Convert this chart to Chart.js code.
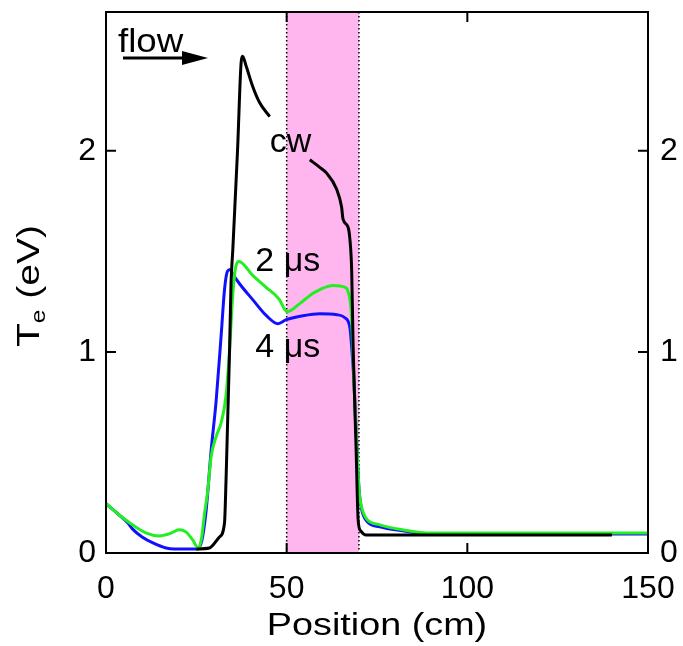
<!DOCTYPE html>
<html>
<head>
<meta charset="utf-8">
<script src="https://cdn.jsdelivr.net/npm/chart.js@4.4.1/dist/chart.umd.min.js"></script>
<style>
  html,body{margin:0;padding:0;background:#fff;}
  #wrap{width:683px;height:646px;}
</style>
</head>
<body>
<div id="wrap"><canvas id="c" width="683" height="646"></canvas></div>
<script>
// ---- data ----
const xTicks = [0, 50, 100, 150];
const yTicks = [0, 1, 2];
const bandStart = 50, bandEnd = 70;

const cwX = [25, 28.6, 31.4, 32.8, 33.2, 33.7, 34.2, 34.6, 35.1, 36.4, 37.4, 37.8, 38.8, 40.6, 42.5, 45.3, 50, 56.4, 59.0, 61.0, 63.8, 65.2, 65.6, 67.0, 67.5, 68.0, 68.4, 69.2, 69.8, 70.5, 72, 80, 100, 120, 140];
const cwY = [0.02, 0.025, 0.08, 0.15, 0.35, 0.68, 1.01, 1.34, 1.51, 2.00, 2.44, 2.47, 2.42, 2.32, 2.24, 2.17, null, 1.955, 1.92, 1.89, 1.81, 1.72, 1.66, 1.62, 1.56, 1.40, 1.02, 0.53, 0.16, 0.11, 0.09, 0.09, 0.09, 0.09, 0.09];

const us2X = [0, 3.6, 7.3, 11, 14.7, 17.5, 20.3, 22.1, 24, 25.6, 26.5, 27.3, 28.1, 29.1, 30.5, 31.9, 33.2, 34.2, 35.1, 36.0, 36.8, 40.6, 44.4, 48.0, 49.5, 50.2, 53.6, 57.2, 59.2, 62.8, 66.3, 67.0, 67.9, 68.6, 69.4, 70.1, 70.7, 72.1, 75.8, 82.2, 88.8, 100, 150];
const us2Y = [0.245, 0.19, 0.14, 0.10, 0.085, 0.095, 0.115, 0.105, 0.065, 0.023, 0.08, 0.20, 0.30, 0.48, 0.58, 0.65, 0.78, 1.01, 1.29, 1.43, 1.45, 1.38, 1.32, 1.26, 1.21, 1.20, 1.24, 1.29, 1.31, 1.33, 1.32, 1.30, 1.19, 0.86, 0.53, 0.30, 0.23, 0.17, 0.14, 0.115, 0.10, 0.10, 0.10];

const us4X = [0, 3.6, 6, 7.3, 10, 13, 16.6, 19, 25.3, 26.5, 27.7, 29.1, 30.5, 31.9, 32.8, 33.6, 34.4, 35.0, 36.9, 40.6, 44.4, 47.6, 49.9, 54.5, 59.2, 63.9, 66.1, 67.5, 68.1, 68.6, 69.4, 70.1, 70.7, 72.1, 75.8, 82.2, 88.8, 100, 150];
const us4Y = [0.245, 0.19, 0.15, 0.12, 0.08, 0.05, 0.025, 0.02, 0.02, 0.06, 0.21, 0.51, 0.76, 1.09, 1.31, 1.40, 1.41, 1.39, 1.34, 1.26, 1.18, 1.14, 1.16, 1.18, 1.19, 1.185, 1.17, 1.12, 1.0, 0.86, 0.53, 0.30, 0.22, 0.16, 0.13, 0.11, 0.095, 0.095, 0.095];

const seriesLabels = ['cw', '2 μs', '4 μs'];
const textLabels = [
  {text: 'cw',   x: 51.1, y: 2.04},
  {text: '2 μs', x: 50.3, y: 1.45},
  {text: '4 μs', x: 50.3, y: 1.02}
];
// ---------------------------------------

const pts = (xs, ys) => xs.map((x, i) => ({x, y: ys[i]}));
const FONT = '"Liberation Sans", Arial, sans-serif';

function stretchedText(ctx, text, x, y, sx) {
  ctx.save();
  ctx.translate(x, y);
  ctx.scale(sx, 1);
  ctx.fillText(text, 0, 0);
  ctx.restore();
}

const decor = {
  id: 'decor',
  beforeDatasetsDraw(chart) {
    const {ctx, chartArea: a, scales: {x}} = chart;
    const x0 = x.getPixelForValue(bandStart), x1 = x.getPixelForValue(bandEnd);
    ctx.save();
    ctx.fillStyle = '#ffb6ef';
    ctx.fillRect(x0, a.top, x1 - x0, a.bottom - a.top);
    ctx.strokeStyle = '#000';
    ctx.lineWidth = 1.5;
    ctx.setLineDash([1.5, 2.5]);
    [x0, x1].forEach(px => {
      ctx.beginPath(); ctx.moveTo(px, a.top); ctx.lineTo(px, a.bottom); ctx.stroke();
    });
    ctx.restore();
  },
  afterDraw(chart) {
    const {ctx, chartArea: a, scales: {x, y}} = chart;
    ctx.save();
    // frame
    ctx.strokeStyle = '#000';
    ctx.lineWidth = 2;
    ctx.strokeRect(a.left, a.top, a.right - a.left, a.bottom - a.top);
    // inward ticks
    const tl = 10;
    ctx.beginPath();
    xTicks.forEach(v => {
      if (v === xTicks[0] || v === xTicks[xTicks.length - 1]) return;
      const px = x.getPixelForValue(v);
      ctx.moveTo(px, a.bottom); ctx.lineTo(px, a.bottom - tl);
      ctx.moveTo(px, a.top); ctx.lineTo(px, a.top + tl);
    });
    yTicks.forEach(v => {
      if (v === 0) return;
      const py = y.getPixelForValue(v);
      ctx.moveTo(a.left, py); ctx.lineTo(a.left + tl, py);
      ctx.moveTo(a.right, py); ctx.lineTo(a.right - tl, py);
    });
    ctx.stroke();

    // annotations
    ctx.fillStyle = '#000';
    ctx.textAlign = 'center';
    ctx.textBaseline = 'middle';
    ctx.font = '34px ' + FONT;
    textLabels.forEach(t => {
      ctx.fillText(t.text, x.getPixelForValue(t.x), y.getPixelForValue(t.y));
    });

    // flow arrow
    ctx.textAlign = 'left';
    ctx.textBaseline = 'alphabetic';
    ctx.font = '34px ' + FONT;
    stretchedText(ctx, 'flow', 118, 52, 1.08);
    ctx.lineWidth = 3;
    ctx.beginPath(); ctx.moveTo(123, 58); ctx.lineTo(188, 58); ctx.stroke();
    ctx.beginPath(); ctx.moveTo(182, 51); ctx.lineTo(208, 58); ctx.lineTo(182, 65); ctx.closePath(); ctx.fill();

    // x title
    ctx.textAlign = 'center';
    ctx.textBaseline = 'middle';
    ctx.font = '32px ' + FONT;
    stretchedText(ctx, 'Position (cm)', (a.left + a.right) / 2, 626, 1.18);

    // y title with subscript (stretched along reading direction like the original)
    ctx.translate(30, 286);
    ctx.rotate(-Math.PI / 2);
    ctx.scale(1.22, 1);
    ctx.textBaseline = 'middle';
    ctx.textAlign = 'left';
    const big = '32px ' + FONT, small = '20px ' + FONT;
    ctx.font = big; const wT = ctx.measureText('T').width;
    ctx.font = small; const wE = ctx.measureText('e').width;
    ctx.font = big; const wR = ctx.measureText(' (eV)').width;
    const total = wT + wE + wR;
    let cx = -total / 2;
    ctx.font = big; ctx.fillText('T', cx, 0); cx += wT;
    ctx.font = small; ctx.fillText('e', cx, 9); cx += wE;
    ctx.font = big; ctx.fillText(' (eV)', cx, 0);
    ctx.restore();
  }
};

const tickFont = {family: FONT, size: 32};

new Chart(document.getElementById('c'), {
  type: 'line',
  data: {
    datasets: [
      {label: seriesLabels[0], data: pts(cwX, cwY), borderColor: '#000000', borderWidth: 3, spanGaps: false, order: 0},
      {label: seriesLabels[1], data: pts(us2X, us2Y), borderColor: '#22ee22', borderWidth: 3, order: 1},
      {label: seriesLabels[2], data: pts(us4X, us4Y), borderColor: '#1010ff', borderWidth: 3, order: 2}
    ]
  },
  options: {
    responsive: false,
    animation: false,
    elements: {point: {radius: 0}, line: {tension: 0.3, cubicInterpolationMode: 'monotone', fill: false}},
    layout: {padding: {top: 12, left: 0, right: 0, bottom: 0}},
    plugins: {legend: {display: false}, tooltip: {enabled: false}},
    scales: {
      x: {
        type: 'linear', position: 'bottom', min: 0, max: 150,
        afterBuildTicks: s => { s.ticks = xTicks.map(v => ({value: v})); },
        afterFit: s => { s.height = 93; s.paddingLeft = 0; s.paddingRight = 0; },
        grid: {display: false, drawTicks: false},
        border: {display: false},
        ticks: {font: tickFont, color: '#000', padding: 17, maxRotation: 0, autoSkip: false}
      },
      y: {
        type: 'linear', position: 'left', min: 0, max: 2.69,
        afterBuildTicks: s => { s.ticks = yTicks.map(v => ({value: v})); },
        afterFit: s => { s.width = 106; s.paddingTop = 0; s.paddingBottom = 0; },
        grid: {display: false, drawTicks: false},
        border: {display: false},
        ticks: {font: tickFont, color: '#000', padding: 10}
      },
      y2: {
        type: 'linear', position: 'right', min: 0, max: 2.69,
        afterBuildTicks: s => { s.ticks = yTicks.map(v => ({value: v})); },
        afterFit: s => { s.width = 35; s.paddingTop = 0; s.paddingBottom = 0; },
        grid: {display: false, drawTicks: false},
        border: {display: false},
        ticks: {font: tickFont, color: '#000', padding: 12}
      }
    }
  },
  plugins: [decor]
});
</script>
</body>
</html>
